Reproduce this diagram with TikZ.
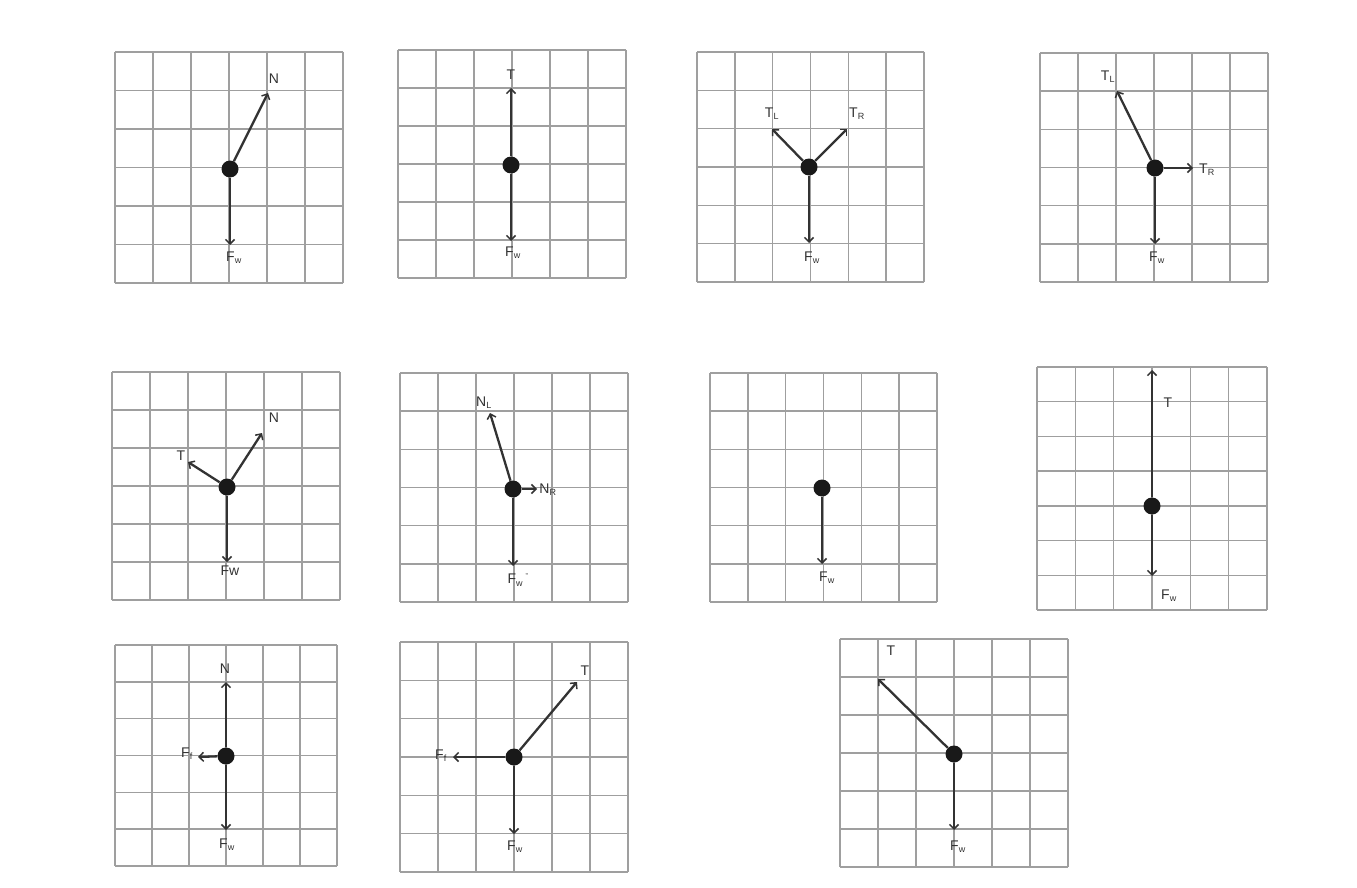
\documentclass[tikz,border=0pt]{standalone}
\usepackage{fontspec}
\setmainfont{Liberation Sans}
\usetikzlibrary{arrows.meta}
\tikzset{
 gridline/.style={draw=gray!75, line width=1.4pt},
 force/.style={draw=black!80, line width=2.3pt, -{Straight Barb[length=4.5pt,width=9pt,line width=1.5pt]}},
 body/.style={circle, fill=black!90, minimum size=17pt, inner sep=0pt},
 lab/.style={font=\fontsize{14}{16}\selectfont, text=black!80, inner sep=0pt},
}
\newcommand{\fbdgrid}[6]{%
 \foreach \k in {0,...,#5}{\draw[gridline] ({#1+(#3-#1)*\k/#5},#2) -- ({#1+(#3-#1)*\k/#5},#4);}
 \foreach \k in {0,...,#6}{\draw[gridline] (#1,{#2+(#4-#2)*\k/#6}) -- (#3,{#2+(#4-#2)*\k/#6});}
}
\newcommand{\sbs}[1]{\textsubscript{\fontsize{9}{10}\selectfont #1}}
\begin{document}
\begin{tikzpicture}[x=1pt,y=-1pt]
\useasboundingbox[fill=white] (0,0) rectangle (1357,888);
% ---------- Panel 1 ----------
\fbdgrid{115}{52}{343}{283}{6}{6}
\node[body] (b1) at (230,169) {};
\coordinate (b1n) at (268,93);
\coordinate (b1w) at (230,245);
\draw[force] (b1) -- (b1n);
\draw[force] (b1) -- (b1w);
\node[lab] (l1n) at (274,79) {N};
\node[lab] (l1w) at (234,258) {F\sbs{w}};
% ---------- Panel 2 ----------
\fbdgrid{398}{50}{626}{278}{6}{6}
\node[body] (b2) at (511,165) {};
\coordinate (b2t) at (511,88);
\coordinate (b2w) at (511,241);
\draw[force] (b2) -- (b2t);
\draw[force] (b2) -- (b2w);
\node[lab] (l2t) at (511,75) {T};
\node[lab] (l2w) at (513,253) {F\sbs{w}};
% ---------- Panel 3 ----------
\fbdgrid{697}{52}{924}{282}{6}{6}
\node[body] (b3) at (809,167) {};
\coordinate (b3l) at (772,129);
\coordinate (b3r) at (847,129);
\coordinate (b3w) at (809,243);
\draw[force] (b3) -- (b3l);
\draw[force] (b3) -- (b3r);
\draw[force] (b3) -- (b3w);
\node[lab] (l3l) at (772,114) {T\sbs{L}};
\node[lab] (l3r) at (857,114) {T\sbs{R}};
\node[lab] (l3w) at (812,258) {F\sbs{w}};
% ---------- Panel 4 ----------
\fbdgrid{1040}{53}{1268}{282}{6}{6}
\node[body] (b4) at (1155,168) {};
\coordinate (b4l) at (1117,91);
\coordinate (b4r) at (1193,168);
\coordinate (b4w) at (1155,244);
\draw[force] (b4) -- (b4l);
\draw[force] (b4) -- (b4r);
\draw[force] (b4) -- (b4w);
\node[lab] (l4l) at (1108,77) {T\sbs{L}};
\node[lab] (l4r) at (1207,170) {T\sbs{R}};
\node[lab] (l4w) at (1157,258) {F\sbs{w}};
% ---------- Panel 5 ----------
\fbdgrid{112}{372}{340}{600}{6}{6}
\node[body] (b5) at (227,487) {};
\coordinate (b5n) at (262,433);
\coordinate (b5t) at (188,462);
\coordinate (b5w) at (227,562);
\draw[force] (b5) -- (b5n);
\draw[force] (b5) -- (b5t);
\draw[force] (b5) -- (b5w);
\node[lab] (l5n) at (274,418) {N};
\node[lab] (l5t) at (181,456) {T};
\node[lab] (l5w) at (230,571) {Fw};
% ---------- Panel 6 ----------
\fbdgrid{400}{373}{628}{602}{6}{6}
\node[body] (b6) at (513,489) {};
\coordinate (b6l) at (490,413);
\coordinate (b6r) at (537,489);
\coordinate (b6w) at (513,566);
\draw[force] (b6) -- (b6l);
\draw[force] (b6) -- (b6r);
\draw[force] (b6) -- (b6w);
\node[lab] (l6l) at (484,403) {N\sbs{L}};
\node[lab] (l6r) at (548,490) {N\sbs{R}};
\node[lab] (l6w) at (518,580) {F\sbs{w}\,\textsuperscript{\fontsize{7}{8}\selectfont"}};
% ---------- Panel 7 ----------
\fbdgrid{710}{373}{937}{602}{6}{6}
\node[body] (b7) at (822,488) {};
\coordinate (b7w) at (822,564);
\draw[force] (b7) -- (b7w);
\node[lab] (l7w) at (827,578) {F\sbs{w}};
% ---------- Panel 8 ----------
\fbdgrid{1037}{367}{1267}{610}{6}{7}
\node[body] (b8) at (1152,506) {};
\coordinate (b8t) at (1152,370);
\coordinate (b8w) at (1152,576);
\draw[force] (b8) -- (b8t);
\draw[force] (b8) -- (b8w);
\node[lab] (l8t) at (1168,403) {T};
\node[lab] (l8w) at (1169,596) {F\sbs{w}};
% ---------- Panel 9 ----------
\fbdgrid{115}{645}{337}{866}{6}{6}
\node[body] (b9) at (226,756) {};
\coordinate (b9n) at (226,682);
\coordinate (b9f) at (198,757);
\coordinate (b9w) at (226,830);
\draw[force] (b9) -- (b9n);
\draw[force] (b9) -- (b9f);
\draw[force] (b9) -- (b9w);
\node[lab] (l9n) at (225,669) {N};
\node[lab] (l9f) at (187,754) {F\sbs{f}};
\node[lab] (l9w) at (227,845) {F\sbs{w}};
% ---------- Panel 10 ----------
\fbdgrid{400}{642}{628}{872}{6}{6}
\node[body] (b10) at (514,757) {};
\coordinate (b10t) at (577,682);
\coordinate (b10f) at (453,757);
\coordinate (b10w) at (514,834);
\draw[force] (b10) -- (b10t);
\draw[force] (b10) -- (b10f);
\draw[force] (b10) -- (b10w);
\node[lab] (l10t) at (585,671) {T};
\node[lab] (l10f) at (441,756) {F\sbs{f}};
\node[lab] (l10w) at (515,847) {F\sbs{w}};
% ---------- Panel 11 ----------
\fbdgrid{840}{639}{1068}{867}{6}{6}
\node[body] (b11) at (954,754) {};
\coordinate (b11t) at (878,679);
\coordinate (b11w) at (954,830);
\draw[force] (b11) -- (b11t);
\draw[force] (b11) -- (b11w);
\node[lab] (l11t) at (891,651) {T};
\node[lab] (l11w) at (958,847) {F\sbs{w}};
\end{tikzpicture}
\end{document}
